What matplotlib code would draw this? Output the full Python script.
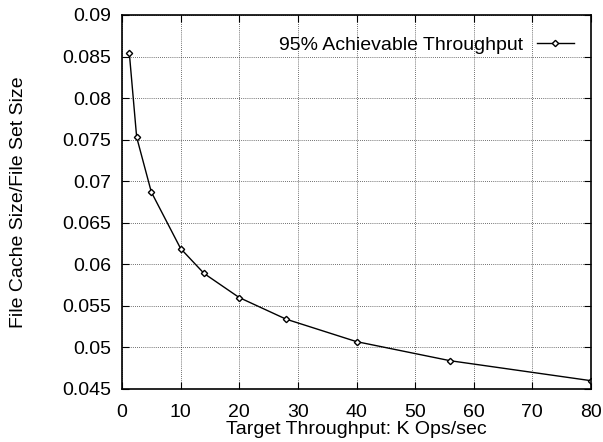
import matplotlib
matplotlib.use("Agg")
import matplotlib.pyplot as plt
from matplotlib.ticker import FuncFormatter

# Data
throughput = [1.25, 2.5, 5, 10, 14, 20, 28, 40, 56, 80]
cache_ratio = [0.0854, 0.0753, 0.0687, 0.0619, 0.0589, 0.0560, 0.0534, 0.0507, 0.0484, 0.0460]
series_label = "95% Achievable Throughput"
x_ticks = [0, 10, 20, 30, 40, 50, 60, 70, 80]
y_ticks = [0.045, 0.05, 0.055, 0.06, 0.065, 0.07, 0.075, 0.08, 0.085, 0.09]

plt.rcParams['font.family'] = ['Liberation Sans', 'DejaVu Sans']

fig = plt.figure(figsize=(6.03, 4.42), dpi=100)
ax = fig.add_axes([122/603, 1-389/442, (591-122)/603, (389-15)/442])

ax.plot(throughput, cache_ratio, color='black', linewidth=1.0,
        marker='D', markersize=3.2, markerfacecolor='white',
        markeredgecolor='black', markeredgewidth=1.0, label=series_label)

ax.set_xlim(0, 80)
ax.set_ylim(0.045, 0.09)
ax.set_xticks(x_ticks)
ax.set_yticks(y_ticks)
ax.yaxis.set_major_formatter(FuncFormatter(lambda v, p: ('%.3f' % v).rstrip('0')))

ax.grid(True, color='black', linestyle=(0, (1, 1.5)), linewidth=0.6, alpha=0.75)
ax.tick_params(direction='in', length=5, width=0.8, top=True, right=True,
               labelsize=14)
ax.tick_params(axis='x', pad=11)
ax.tick_params(axis='y', pad=8)
for s in ax.spines.values():
    s.set_linewidth(1.2)

ax.set_xlabel("Target Throughput: K Ops/sec", fontsize=14, labelpad=0)
ax.set_ylabel("File Cache Size/File Set Size", fontsize=14, labelpad=25)

leg = ax.legend(loc='upper right', frameon=False, markerfirst=False,
                fontsize=14, handlelength=1.9, handletextpad=0.7,
                borderaxespad=0.3, bbox_to_anchor=(0.992, 0.98))

fig.savefig("out.png", dpi=100)
